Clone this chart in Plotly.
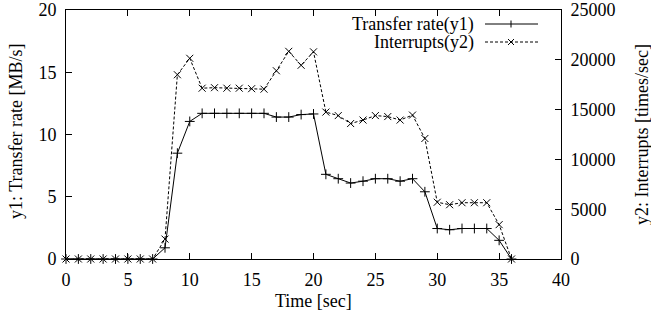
import plotly.graph_objects as go

time_sec = list(range(0, 37))
transfer_rate = [0, 0, 0, 0, 0, 0, 0, 0,
                 0.9, 8.5, 11.05, 11.7, 11.7, 11.7, 11.7, 11.7, 11.7, 11.4, 11.4, 11.6, 11.65,
                 6.8, 6.45, 6.1, 6.25, 6.45, 6.45, 6.25, 6.45, 5.4,
                 2.45, 2.35, 2.45, 2.45, 2.45, 1.5, 0]
interrupts = [0, 0, 0, 0, 0, 0, 0, 0,
              2000, 18500, 20150, 17150, 17200, 17150, 17150, 17100, 17050, 18900, 20850, 19450, 20800,
              14750, 14400, 13600, 13950, 14400, 14300, 13950, 14450, 12100,
              5700, 5450, 5650, 5650, 5650, 3450, 0]

x_ticks = [0, 5, 10, 15, 20, 25, 30, 35, 40]
y1_ticks = [0, 5, 10, 15, 20]
y2_ticks = [0, 5000, 10000, 15000, 20000, 25000]
y2_tick_labels = ["0", "5000", "10000", "15000", "20000", "25000"]

series_names = ["Transfer rate(y1)", "Interrupts(y2)"]
x_title = "Time [sec]"
y1_title = "y1: Transfer rate [MB/s]"
y2_title = "y2: Interrupts [times/sec]"

W, H = 651, 320
L, R, T, B = 66, 90, 10, 61
PW, PH = W - L - R, H - T - B
FONT = "Liberation Serif"
FS = 18

def px_x(px):
    return (px - L) / PW

def px_y(py):
    return (H - B - py) / PH

fig = go.Figure()
fig.add_trace(go.Scatter(
    x=time_sec, y=transfer_rate, name=series_names[0], mode="lines+markers",
    line=dict(color="black", width=1),
    marker=dict(symbol="cross-thin-open", size=7, line=dict(color="black", width=1)),
    yaxis="y", cliponaxis=False))
fig.add_trace(go.Scatter(
    x=time_sec, y=interrupts, name=series_names[1], mode="lines+markers",
    line=dict(color="black", width=1, dash="3px,2px"),
    marker=dict(symbol="x-thin-open", size=7, line=dict(color="black", width=1)),
    yaxis="y2", cliponaxis=False))

axis_common = dict(showgrid=False, zeroline=False, showline=True, linecolor="black",
                   linewidth=1, ticks="inside", ticklen=6, tickcolor="black", tickwidth=1,
                   automargin=False,
                   tickfont=dict(family=FONT, size=FS, color="black"))

fig.update_layout(
    width=W, height=H,
    margin=dict(l=L, r=R, t=T, b=B, pad=0, autoexpand=False),
    paper_bgcolor="white", plot_bgcolor="white",
    showlegend=False,
    font=dict(family=FONT, size=FS, color="black"),
    xaxis=dict(range=[0, 40], tickvals=x_ticks, mirror="ticks", ticklabelstandoff=4,
               **axis_common),
    yaxis=dict(range=[0, 20], tickvals=y1_ticks, mirror=False, ticklabelstandoff=5,
               **axis_common),
    yaxis2=dict(range=[0, 25000], tickvals=y2_ticks, ticktext=y2_tick_labels,
                overlaying="y", side="right", ticklabelstandoff=5, **axis_common),
)

annotations = [
    dict(text=x_title, xref="paper", yref="paper", x=0.5, y=px_y(301),
         xanchor="center", yanchor="middle", showarrow=False,
         font=dict(family=FONT, size=FS, color="black")),
    dict(text=y1_title, xref="paper", yref="paper", x=px_x(16), y=px_y(132),
         xanchor="center", yanchor="middle", textangle=-90, showarrow=False,
         font=dict(family=FONT, size=FS, color="black")),
    dict(text=y2_title, xref="paper", yref="paper", x=px_x(642), y=px_y(135),
         xanchor="center", yanchor="middle", textangle=-90, showarrow=False,
         font=dict(family=FONT, size=FS, color="black")),
]

shapes = []
legend_rows = [(series_names[0], 24, "solid", "plus"), (series_names[1], 42, "3px,2px", "x")]
for name, py, dash, sym in legend_rows:
    annotations.append(dict(text=name, xref="paper", yref="paper", x=px_x(476), y=px_y(py),
                            xanchor="right", yanchor="middle", showarrow=False,
                            font=dict(family=FONT, size=FS, color="black")))
    shapes.append(dict(type="line", xref="paper", yref="paper",
                       x0=px_x(485), x1=px_x(538), y0=px_y(py), y1=px_y(py),
                       line=dict(color="black", width=1, dash=dash)))
    cx = 511
    s = 3.5
    if sym == "plus":
        shapes.append(dict(type="line", xref="paper", yref="paper",
                           x0=px_x(cx), x1=px_x(cx), y0=px_y(py - s), y1=px_y(py + s),
                           line=dict(color="black", width=1)))
    else:
        shapes.append(dict(type="line", xref="paper", yref="paper",
                           x0=px_x(cx - 3), x1=px_x(cx + 3), y0=px_y(py - 3), y1=px_y(py + 3),
                           line=dict(color="black", width=1)))
        shapes.append(dict(type="line", xref="paper", yref="paper",
                           x0=px_x(cx - 3), x1=px_x(cx + 3), y0=px_y(py + 3), y1=px_y(py - 3),
                           line=dict(color="black", width=1)))

fig.update_layout(annotations=annotations, shapes=shapes)
fig.write_html(
    "out.html",
    config={"displayModeBar": False},
    post_script="document.body.style.margin='0';document.body.style.overflow='hidden';",
)
